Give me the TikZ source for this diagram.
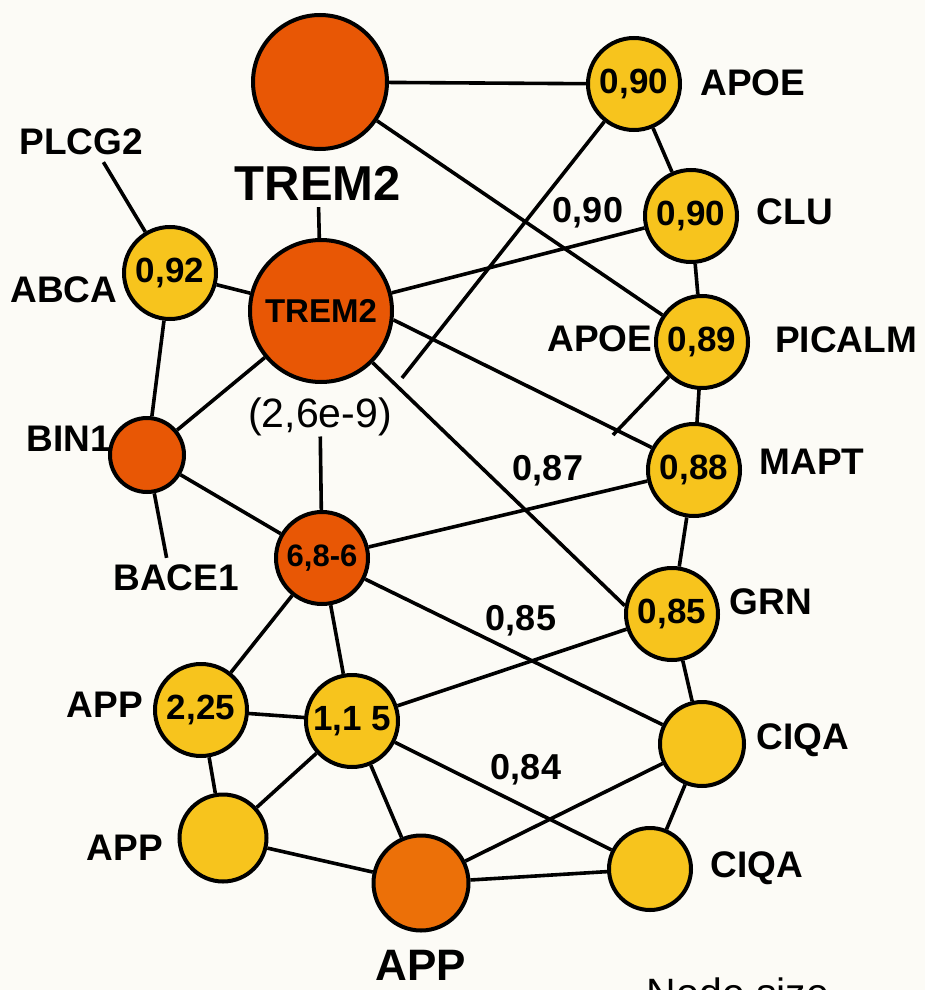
\documentclass[tikz,border=0pt]{standalone}
\usepackage{fontspec}
\setmainfont{Liberation Sans}
\definecolor{hubred}{HTML}{E85705}
\definecolor{geneyel}{HTML}{F7C41D}
\definecolor{apporange}{HTML}{EC7008}
\definecolor{paper}{HTML}{FCFBF6}

\begin{document}
\begin{tikzpicture}[x=0.5pt,y=-0.5pt,
    conn/.style={line width=1.8pt},
    hub/.style={circle,draw,line width=2pt,fill=hubred,inner sep=0pt},
    gene/.style={circle,draw,line width=2pt,fill=geneyel,inner sep=0pt,minimum size=46pt},
    glabel/.style={font=\fontsize{18.5}{20}\selectfont\bfseries},
    score/.style={font=\fontsize{17.5}{19}\selectfont\bfseries},
    corr/.style={font=\fontsize{18}{20}\selectfont\bfseries}]
  \fill[paper] (0,0) rectangle (925,990);
  \useasboundingbox (0,0) rectangle (925,990);

  \node[hub,minimum size=67pt] (trem2a) at (320,82) {};
  \node[font=\fontsize{24.5}{26}\selectfont\bfseries] (trem2lbl) at (318,183) {TREM2};
  \node[hub,minimum size=71pt,font=\fontsize{16.5}{18}\selectfont\bfseries] (trem2) at (321,311) {TREM2};
  \node[inner sep=0pt,font=\fontsize{20.5}{22}\selectfont] (trem2p) at (320,417) {(2,6e-9)};
  \node[hub,minimum size=46pt,font=\fontsize{15.5}{17}\selectfont\bfseries] (mid) at (322,558) {6,8-6};
  \node[gene,score] (abca) at (170,273) {0,92};
  \node[glabel] (plcg2) at (81,142) {PLCG2};
  \node[glabel] (labca) at (64,290) {ABCA};
  \node[hub,minimum size=37pt] (bin1) at (147,455) {};
  \node[glabel] (lbin1) at (69,439) {BIN1};
  \node[glabel] (bace1) at (176,578) {BACE1};

  \node[gene,score] (apoe) at (634,84) {0,90};
  \node[glabel] (lapoe) at (753,83) {APOE};
  \node[gene,score] (clu) at (691,216) {0,90};
  \node[glabel] (lclu) at (795,212) {CLU};
  \node[gene,score] (picalm) at (702,342) {0,89};
  \node[glabel] (lpicalm) at (846,340) {PICALM};
  \node[glabel] (lapoe2) at (600,339) {APOE};
  \node[gene,score] (mapt) at (694,470) {0,88};
  \node[glabel] (lmapt) at (812,462) {MAPT};
  \node[gene,score] (grn) at (672,614) {0,85};
  \node[glabel] (lgrn) at (771,602) {GRN};
  \node[gene,minimum size=42pt] (ciqa) at (702,744) {};
  \node[glabel] (lciqa) at (803,740) {CIQA};
  \node[gene,minimum size=41pt] (ciqb) at (650,869) {};
  \node[glabel] (lciqb) at (757,868) {CIQA};

  \node[gene,score] (app225) at (201,710) {2,25};
  \node[glabel] (lapp225) at (105,705) {APP};
  \node[gene,score] (n115) at (352,721) {1,1 5};
  \node[gene,minimum size=43.5pt] (appc) at (223,838) {};
  \node[glabel] (lappc) at (125,848) {APP};
  \node[hub,fill=apporange,minimum size=47.5pt] (appd) at (421,883) {};
  \node[font=\fontsize{22}{24}\selectfont\bfseries] (lappd) at (421,965) {APP};

  \node[corr] (w1) at (588,213) {0,90};
  \node[corr] (w2) at (548,471) {0,87};
  \node[corr] (w3) at (521,621) {0,85};
  \node[corr] (w4) at (526,770) {0,84};
  \node[font=\fontsize{20.5}{22}\selectfont,anchor=base] (legend) at (738,1007) {Node size};

  \coordinate (apoeend) at (402,378);
  \coordinate (picend) at (613,435);

  \draw[conn] (trem2a) -- (apoe);
  \draw[conn] (trem2a) -- (picalm);
  \draw[conn] (apoe) -- (clu);
  \draw[conn] (clu) -- (picalm);
  \draw[conn] (picalm) -- (mapt);
  \draw[conn] (mapt) -- (grn);
  \draw[conn] (grn) -- (ciqa);
  \draw[conn] (ciqa) -- (ciqb);
  \draw[conn] (apoe) -- (apoeend);
  \draw[conn] (picalm) -- (picend);
  \draw[conn] (trem2lbl) -- (trem2);
  \draw[conn] (trem2p) -- (mid);
  \draw[conn] (plcg2.-42) -- (abca);
  \draw[conn] (abca) -- (trem2);
  \draw[conn] (abca) -- (bin1);
  \draw[conn] (bin1) -- (trem2);
  \draw[conn] (bin1) -- (mid);
  \draw[conn] (bin1) -- (bace1.115);
  \draw[conn] (trem2) -- (clu);
  \draw[conn] (trem2.-7) -- (mapt.152);
  \draw[conn] (trem2.-45) -- (grn.170);
  \draw[conn] (mid) -- (mapt);
  \draw[conn] (mid) -- (ciqa);
  \draw[conn] (mid) -- (app225);
  \draw[conn] (mid) -- (n115);
  \draw[conn] (app225) -- (n115);
  \draw[conn] (app225) -- (appc);
  \draw[conn] (n115) -- (grn);
  \draw[conn] (n115) -- (ciqb);
  \draw[conn] (n115) -- (appc);
  \draw[conn] (n115) -- (appd);
  \draw[conn] (appc) -- (appd);
  \draw[conn] (appd) -- (ciqa);
  \draw[conn] (appd) -- (ciqb);
\end{tikzpicture}
\end{document}
